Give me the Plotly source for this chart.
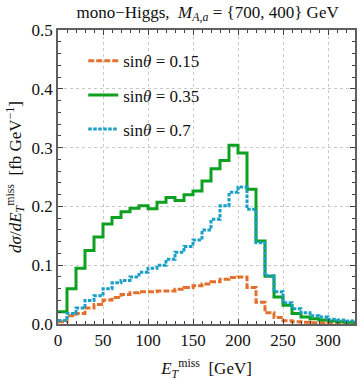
import plotly.graph_objects as go

bin_edges = [i * 10 for i in range(34)]  # 0..330 GeV

sin_015 = [0.004, 0.014, 0.018, 0.027, 0.033, 0.041, 0.045, 0.050, 0.053, 0.055,
           0.055, 0.056, 0.056, 0.059, 0.062, 0.065, 0.068, 0.072, 0.076, 0.079,
           0.080, 0.062, 0.037, 0.019, 0.011, 0.0055, 0.004, 0.003, 0.002, 0.002,
           0.0015, 0.001, 0.001]
sin_035 = [0.021, 0.060, 0.095, 0.125, 0.148, 0.170, 0.181, 0.191, 0.197, 0.201,
           0.196, 0.207, 0.215, 0.210, 0.220, 0.226, 0.243, 0.264, 0.278, 0.304,
           0.291, 0.229, 0.141, 0.081, 0.046, 0.032, 0.018, 0.012, 0.009, 0.007,
           0.005, 0.004, 0.003]
sin_07 = [0.006, 0.018, 0.027, 0.040, 0.048, 0.060, 0.070, 0.074, 0.080, 0.088,
          0.095, 0.100, 0.110, 0.122, 0.132, 0.143, 0.160, 0.178, 0.201, 0.224,
          0.233, 0.195, 0.138, 0.082, 0.055, 0.036, 0.026, 0.019, 0.014, 0.012,
          0.008, 0.007, 0.005]

series = [
    ("sin<i>θ</i> = 0.15", sin_015, "#E2702C", "6px,2px"),
    ("sin<i>θ</i> = 0.35", sin_035, "#0DA021", "solid"),
    ("sin<i>θ</i> = 0.7", sin_07, "#1A9FC6", "3.5px,1.5px"),
]

FONT = "Liberation Serif"
fig = go.Figure()
for i, (name, vals, color, dash) in enumerate(series):
    fig.add_trace(go.Scatter(
        x=bin_edges, y=list(vals) + [vals[-1]],
        mode="lines", line_shape="hv", name=name, legendgroup=str(i),
        line=dict(color=color, width=3, dash=dash),
    ))

axis_common = dict(
    showline=True, linecolor="#606060", linewidth=1.5, mirror="ticks",
    ticks="inside", ticklen=5, tickwidth=1, tickcolor="#404040",
    showgrid=True, gridcolor="#c8c8c8", griddash="dot", gridwidth=1,
    zeroline=False, automargin=False,
    tickfont=dict(family=FONT, size=17, color="#111"),
)

fig.update_xaxes(
    range=[0, 330], tickvals=[0, 50, 100, 150, 200, 250, 300],
    minor=dict(dtick=10, ticks="inside", ticklen=3, tickcolor="#404040", showgrid=False),
    title=dict(text="<i>E</i><sub><i>T</i></sub><sup>miss</sup>  [GeV]",
               font=dict(family=FONT, size=17, color="#111"), standoff=16),
    **axis_common,
)
fig.update_yaxes(
    range=[0, 0.5], tickvals=[0, 0.1, 0.2, 0.3, 0.4, 0.5], tickformat=".1f",
    minor=dict(dtick=0.02, ticks="inside", ticklen=3, tickcolor="#404040", showgrid=False),
    title=dict(text="<i>dσ</i>/<i>dE</i><sub><i>T</i></sub><sup>miss</sup>  [fb GeV<sup>−1</sup>]",
               font=dict(family=FONT, size=17, color="#111"), standoff=6),
    **axis_common,
)

fig.update_layout(
    width=361, height=381,
    margin=dict(l=58, r=6, t=30, b=57),
    plot_bgcolor="white", paper_bgcolor="white",
    font=dict(family=FONT),
    title=dict(text="mono−Higgs,  <i>M</i><sub><i>A,a</i></sub> = {700, 400} GeV",
               font=dict(family=FONT, size=17, color="#111"),
               x=0.575, xanchor="center", y=0.985, yanchor="top"),
    legend=dict(x=0.085, y=0.955, xanchor="left", yanchor="top",
                bgcolor="rgba(0,0,0,0)", borderwidth=0, tracegroupgap=9,
                font=dict(family=FONT, size=17, color="#111")),
    showlegend=True,
)

fig.write_html("out.html", config={"displayModeBar": False},
               post_script="document.body.style.margin='0';document.body.style.overflow='hidden';")
